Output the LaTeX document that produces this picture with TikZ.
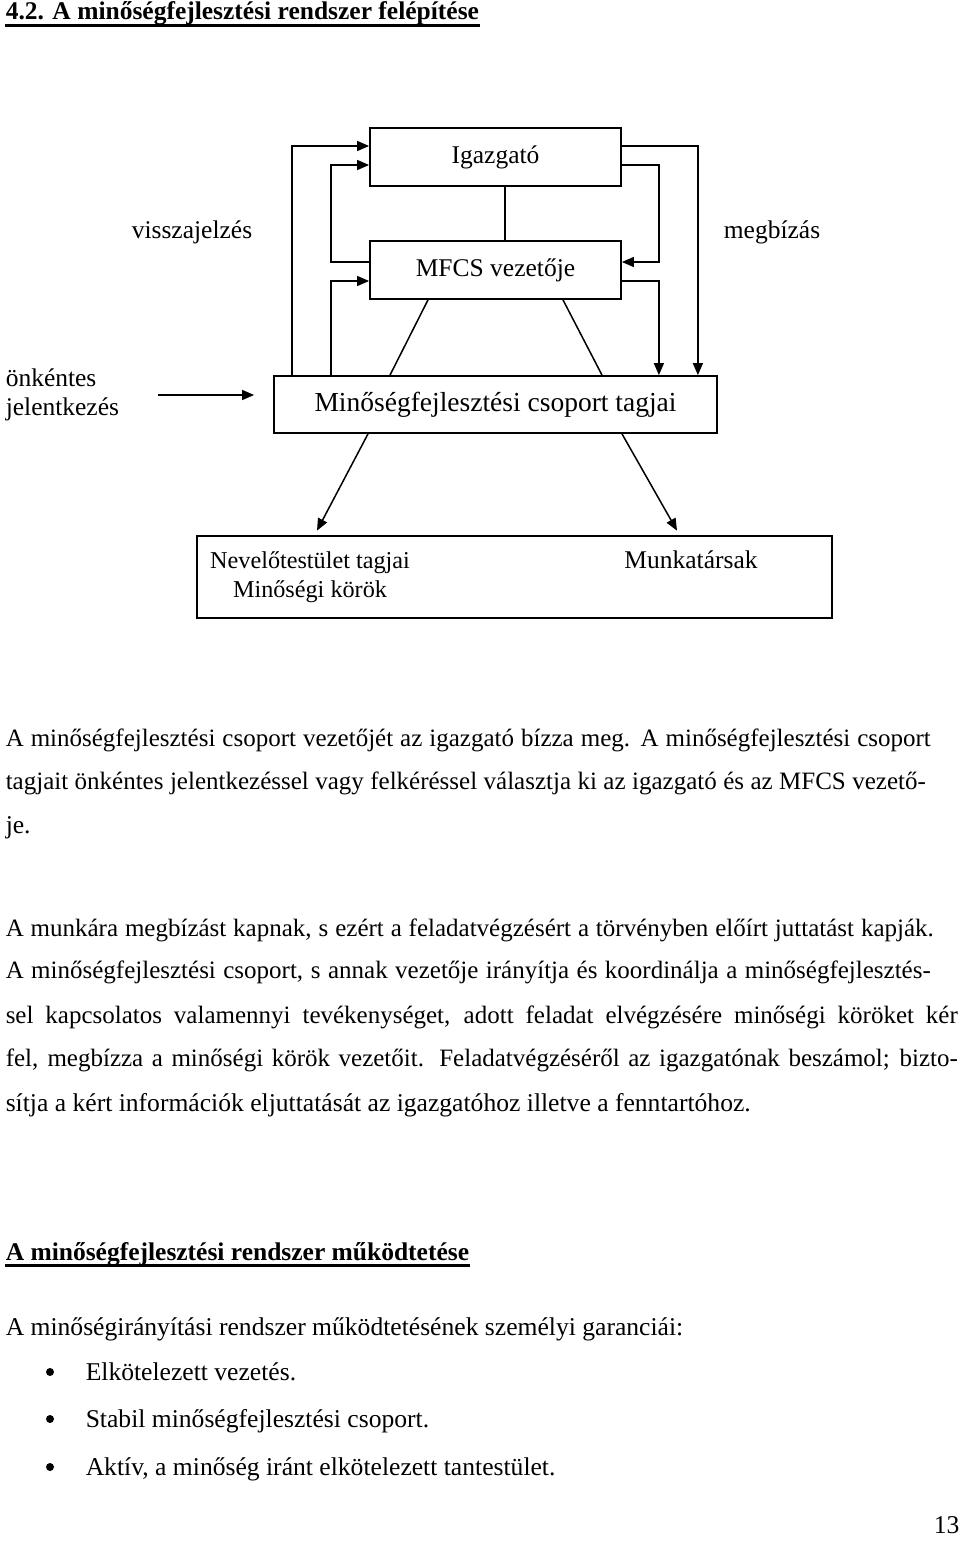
\documentclass[tikz,border=0pt]{standalone}
\usepackage{fontspec}
\setmainfont{Liberation Serif}
\usetikzlibrary{arrows.meta}

\begin{document}
\begin{tikzpicture}[x=1pt,y=-1pt,line width=1.5pt,>={Triangle[length=12pt,width=10pt]},
  doboz/.style={draw,line width=1.8pt,inner sep=0pt,font=\fontsize{25.5}{29}\selectfont},
  felirat/.style={inner sep=0pt,font=\fontsize{25.5}{29}\selectfont},
  sor/.style={anchor=base west,inner sep=0pt,font=\fontsize{25.6}{30}\selectfont},
  sorj/.style={sor,font=\fontsize{25}{30}\selectfont},
  cim/.style={anchor=base west,inner sep=0pt,font=\fontsize{25.5}{30}\selectfont\bfseries},
  pont/.style={circle,fill,inner sep=0pt,minimum size=8pt}]
\useasboundingbox[fill=white](0,0)rectangle(960,1563);

% cim
\node[cim](c1) at (5,20){4.2. A minőségfejlesztési rendszer felépítése};
\draw[line width=2.4pt]([yshift=-5.5pt]c1.base west)--([yshift=-5.5pt]c1.base east);

% abra
\node[doboz,minimum width=251pt,minimum height=58pt](igaz) at (495.5,157){Igazgató};
\node[doboz,minimum width=251pt,minimum height=58pt](mfcs) at (495.5,270){MFCS vezetője};
\node[doboz,minimum width=443pt,minimum height=57pt,font=\fontsize{27.5}{30}\selectfont](tagok) at (495.5,404.5){Minőségfejlesztési csoport tagjai};
\node[doboz,minimum width=635pt,minimum height=82pt](also) at (514.5,577){};
\node[felirat](vissza) at (192,232){visszajelzés};
\node[felirat](megb) at (772,232){megbízás};
\node[felirat,anchor=west,align=left](onk) at (5,395){önkéntes\\jelentkezés};
\node[felirat,align=center,font=\fontsize{24.2}{29}\selectfont](nevelo) at (310,577){Nevelőtestület tagjai\\Minőségi körök};
\node[felirat,anchor=base](munk) at (691,568){Munkatársak};
\coordinate (jel) at (158,395);

\draw([xshift=9.5pt]igaz.south)--([xshift=9.5pt]mfcs.north);
\draw([xshift=-67.5pt]mfcs.south)--([xshift=-105.5pt]tagok.north);
\draw([xshift=67.5pt]mfcs.south)--([xshift=106.5pt]tagok.north);
\draw[->]([xshift=19pt]tagok.north west)|-([yshift=11pt]igaz.west);
\draw[->]([yshift=8pt]mfcs.west)--++(-38,0)|-([yshift=-8pt]igaz.west);
\draw[->]([xshift=58pt]tagok.north west)|-([yshift=-11pt]mfcs.west);
\draw[->]([yshift=11pt]igaz.east)-|([xshift=-20pt]tagok.north east);
\draw[->]([yshift=-8pt]igaz.east)--++(37,0)|-([yshift=8pt]mfcs.east);
\draw[->]([yshift=-11pt]mfcs.east)-|([xshift=-59pt]tagok.north east);
\draw[->](jel)--([xshift=-19pt,yshift=9.5pt]tagok.west);
\draw[->]([xshift=-127.5pt]tagok.south)--([xshift=-197.5pt,yshift=4.5pt]also.north);
\draw[->]([xshift=126.5pt]tagok.south)--([xshift=162.5pt,yshift=4.5pt]also.north);

% szoveg
\node[sorj](s1) at (5,746){\makebox[925pt][s]{A minőségfejlesztési csoport vezetőjét az igazgató bízza meg. A minőségfejlesztési csoport}};
\node[sorj](s2) at (5,789){\makebox[920pt][s]{tagjait önkéntes jelentkezéssel vagy felkéréssel választja ki az igazgató és az MFCS vezető-}};
\node[sor](s3) at (5,833){je.};
\node[sorj](s4) at (5,936){\makebox[928pt][s]{A munkára megbízást kapnak, s ezért a feladatvégzésért a törvényben előírt juttatást kapják.}};
\node[sorj](s5) at (5,978){\makebox[925pt][s]{A minőségfejlesztési csoport, s annak vezetője irányítja és koordinálja a minőségfejlesztés-}};
\node[sorj](s6) at (5,1023){\makebox[952pt][s]{sel kapcsolatos valamennyi tevékenységet, adott feladat elvégzésére minőségi köröket kér}};
\node[sorj](s7) at (5,1066){\makebox[952pt][s]{fel, megbízza a minőségi körök vezetőit. Feladatvégzéséről az igazgatónak beszámol; bizto-}};
\node[sor](s8) at (5,1111){sítja a kért információk eljuttatását az igazgatóhoz illetve a fenntartóhoz.};

\node[cim](c2) at (5,1260){A minőségfejlesztési rendszer működtetése};
\draw[line width=2.4pt]([yshift=-5.5pt]c2.base west)--([yshift=-5.5pt]c2.base east);
\node[sor](s9) at (5,1335){A minőségirányítási rendszer működtetésének személyi garanciái:};

\node[pont](p1) at (50,1372){};
\node[pont](p2) at (50,1419){};
\node[pont](p3) at (50,1467){};
\node[sor](e1) at (85,1380){Elkötelezett vezetés.};
\node[sor](e2) at (85,1427){Stabil minőségfejlesztési csoport.};
\node[sor](e3) at (85,1475){Aktív, a minőség iránt elkötelezett tantestület.};

\node[sor](lap) at (933,1533){13};
\end{tikzpicture}
\end{document}
